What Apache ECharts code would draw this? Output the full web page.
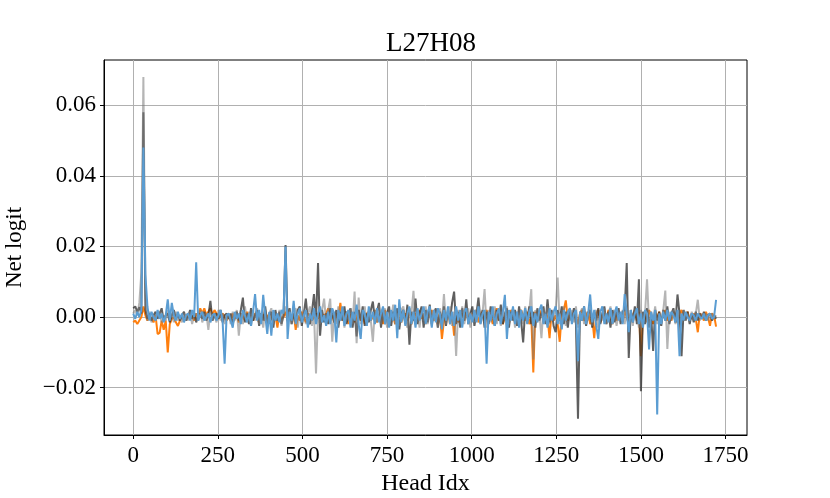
<!DOCTYPE html>
<html>
<head>
<meta charset="utf-8">
<script src="https://cdn.jsdelivr.net/npm/echarts@6/dist/echarts.min.js"></script>
<style>
  html, body { margin: 0; padding: 0; background: #fff; }
</style>
</head>
<body>
<div id="chart" style="width: 830px; height: 498px"></div>
<script>
	// net logit per head, in units of 0.001, one value every STEP heads
	const STEP = 6;
	const xTicks = [0, 250, 500, 750, 1000, 1250, 1500, 1750];
	const yTicks = [-0.02, 0, 0.02, 0.04, 0.06];

	const darkVals = [
		2.5, 3, 1.5, 2.8, 1, 58, 2, -0.5, 1, -1, 0.5, 1.5, -0.5, 1, 2.5, -1, 0.5, 1, -1.5, 0.5, 2, -0.5, 1, -1,
		0.5, 1.5, -1, 0, 2, -0.5, 1, -1.5, 0.5, 1, -0.5, 1.5, -1, 0.5, 4.6, -1, 0.5, 1, -0.5, 2, -1.5, 0.5, 1, -0.5,
		1, -2, 0.5, 1.5, -1, 2, 5.5, -1.5, 1, -2, 2.5, -1, 0.5, 2, -2.5, 1, -1, 3, -2, 0.5, 1.5, -3, 2, -1,
		1.5, -2, 0.5, 20.4, -1, 2.5, -2, 1, -1.5, 2, 3, -2.5, 1, 5.2, -1, -2, 1.5, 6.5, -1, 15.3, -5.3, 2, -1.5, 1,
		-2, 2.5, 1, -1.5, 2, -3, 1.5, -1, 3, -2, 1, 2.5, -3, 1.5, -5.5, 2, -1, 3, -2.5, 1, -1.5, 2, 4.4, -1,
		1.5, 4, -3, 2, -2, 1, 3, -2.5, 1.5, -1, 2.5, -3.5, 1, 2, -2, 3.5, -7.8, 1.5, -1, 5.2, -2, 1, 3, -3,
		2, -1.5, 3.5, -2, 1, 2.5, -3, 1.5, -1, 3, -2.5, 2, -1, 4, 7.2, -2, 1.5, -3, 2.5, -1, 5, -2, 1, 3,
		-2.5, 1, 5.5, -1.5, 2, -3, 1.5, -2, 3, 1, -2.5, 2, -1, 3.5, -2, 1, 2.5, -3, 1.5, -1, 2, -2.5, 3, -1,
		-7.2, 2, -1, 3, -2, 1.5, -3, 2.5, -1, 1, 3, -2, 5, -1.5, 2, -2.5, -4.3, 2, -1, 3, -2, 1.5, -3, 2,
		-1, 2.5, -2, -28.8, 1.5, -1, 3, -2.5, 1, 2, -3, 1.5, -1, 2.5, -2, 1, 3, -2, 1.5, -3, 2, -1.5, 1, 2.5,
		-2, 1.5, 2, 15.3, -11.6, 2, -1.5, 3, -2, 10.7, -21, 1.5, -2, 2.5, -3, 1, -9.6, 2, -1, 1.5, -2.5, 2, -1, 3,
		-2, 1, 2.5, -1.5, 6.4, 1, -11.1, 2, -1, 1.5, -2, 1, -1.5, 1.5, -1, 1, -0.5, 1.5, -1, 0.5, 1, -1, 0.5, -0.5
	];

	const lightVals = [
		1, 2, 0.5, 4, 12.5, 68, 6, -1, 1.5, -1.5, 0.5, -1, 1, 1.5, -1.5, 0.5, -1, 2, -0.5, 1, -1.5, 1.5, -1, 0.5,
		-1.5, 1, 0, -1, 1.5, -2, 0.5, 1, -1, 2, -1.5, 0.5, 1, -3.6, 1.5, -1, 0.5, -1.5, 2, -1, 1, -2, 0.5, 1,
		-2, 1.5, -1, 2, -5.3, 1, -2, 3, -1, 1.5, -2.5, 2, -1, 2.5, -2, 1, -3, 2, -1.5, 1, 2.5, -2, 1, -1,
		2, -2.5, 1, 3, -1.5, 2, -2, 1.5, 2.5, -3, 1, -1, 2, -2, 1, 3, -2.5, 1.5, -16, 1, -2, 2, 5.2, -1.5,
		2, 5.2, -7, 1.5, -2, 3, -1, 2, -3, 1.5, -1, 2.5, -2, 7.2, -7.4, 5.5, -2, 1, 3, -2.5, 1.5, -1, -7, 2,
		-1.5, 3, -2, 1, 2.5, -3, 1.5, -1, 3.5, -2, 1, -2.5, 2, 3, -1, -3, 2, 1, 7.4, -2, 1.5, -3, 2, -1,
		3, -2, 1.5, -2.5, 2, 1, -3, 2.5, -1.5, 6.5, -2, 1, 3, -2.5, 1.5, -11, 2, -1, 3, -2, 1, 2.5, -3, 1,
		-1.5, 2, 3, -2, 1, 7.9, -3, 2, -1.5, 1, 3, -2, 1.5, -2.5, 2, -1, 3, -2, 1, 2.5, -3, 1.5, -1, 2,
		-2, 3, -1, 1.5, 7.9, -12, 2, -1.5, 1, -6, 2.5, -1, 3, -2, 1.5, -1, 2, 11.2, -2, 1, 3, -2.5, 1.5, -1,
		2, -1.5, 3, -3, 1, 2.5, -2, 1.5, -1, 3, -2.5, 1, 2, -3, 1.5, -1, 2.5, -2, 1, 3, -1.5, 2, -2.5, 1,
		-1, 2, -2, 3, -1.5, 1, -2.5, 2, 1.5, -3, 2, -1, 1, 10.7, -2, 1.5, -1, 3, -2, 1, -1.5, 2, 7.5, -9,
		1.5, -1, 2, -2, 1, 1.5, -1.5, 2, -1, 1, -1.5, 1.5, -1, 1, 4.9, -1, 1, -0.5, 1, -1, 0.5, 1, -0.5, 0.5
	];

	const orangeVals = [
		-1.5, -1, -2, -1, 0, 3, 0.5, -1, 0, -0.5, -1.5, 0.5, -4.8, -4.5, -1, -3.6, -1, -10, -2, -0.5, 0, -1.5, -2.5, -1,
		0.5, -1, 0, 1, -0.5, 0.5, -1, 1, 0, 2.5, 1, 2.5, 0.5, 1.5, 2.5, 0.5, 2, 1, -0.5, 0.5, 1, 0, -1, 0.5,
		-1, 1, -0.5, 0.5, -1.5, 1, 0, -1, 1.5, -0.5, 0.5, -1, 1, 0, -1.5, 1, 0.5, -1, 0, 1, -0.5, -1, 0.5, -3,
		1, -0.5, 0, 1.5, -1, 0.5, -0.5, 1, -3.6, 0.5, -1, 1.5, 0, -1.5, 1, 0.5, -1, 0, 1, -0.5, 1.5, -1, 0.5, 1,
		2.5, -1, 0.5, -1.5, 1, 0, 4, -1, 0.5, 1.5, -2, 0.5, 1, -1.5, 0, 2, -1, 0.5, -2, 1, 1.5, -1, 0, 2,
		-1.5, 0.5, 1, -2, 2, -0.5, -1, 1.5, 0, -2, 1, 2, -1.5, 0.5, 1, -1, 2.5, -2, 0, 1, -1, 2, -0.5, 1,
		-2, 1.5, 0, 2, -1, 0.5, -2, 1, -6.2, -1, 0, 1.5, -2, 1, -5.3, 2, -1.5, 0, 1, -1, 2, -1, 0.5, 1,
		-1, 2, -1.5, 0.5, 1.5, -1, 2, -0.5, 1, -2, 0.5, 2.5, -1, 1, -2, 0, 1.5, -1, 2, 0.5, -1.5, 1, -2, 2,
		0.5, -1, 1.5, -2, 0, -15.7, 1.5, -1, 0.5, 2, -1.5, 1, 0, -6, 1.5, -1, 0.5, -2, -7, 1, 2, 4.7, -1, 0.5,
		-1, 1.5, 0, -2, 1, 2, -1, 0.5, 1.5, -2, 0, -6, 1, 2, -1.5, 0.5, 1, -1, 2, 0, -2, 1.5, -1, 0.5,
		1, -1.5, 2, 0, -2, 1, 0.5, 2, -1, 1.5, -11.1, 0, 1, -1.5, 2, 0.5, -2, 1, 0, 1.5, -1, 0.5, 2, -1,
		0.5, -1, 1.5, 0, -1.5, 1, 2, -1, 0.5, 1.5, -1, 0, 1, -0.5, -4.3, 1, 0.5, -1, 1.5, 0, -2.5, 1, 0.5, -2.7
	];

	const blueVals = [
		1, -0.5, 1.5, 0, 2, 48, 12, 3, -1, 1.5, 0, -1, 2, -0.5, 1, -1.5, 0.5, 5, -1, 4, 0.5, -1, 1.5, -0.5,
		1, -1.5, 0.5, 1, -1, 2, 0, 15.5, -1, 0.5, 1.5, -1, 0, 1, -1.5, 0.5, 1, -1, 0.5, 2, -1, -13.2, 0.5, 1,
		-1, -3, 1.5, -0.5, 1, -2, 2, 0.5, -1.5, 1, -2.5, 1.5, 6.5, -1, 2, -2, 6.3, 0.5, -4.8, 1.5, -5.3, 2, -1, 1,
		-1.5, 2, 1, 20, -6.2, 1.5, -1, 4.6, -2, 1, 2.5, -1.5, 0.5, 2, -3, 1, -1, 2.5, -2, 1, 3, -1.5, 0.5, -2.5,
		1.5, -2, 2.5, 1, -7.2, 2, -1, 3, -2.5, 1, 2, -3, 1.5, -1, 3.5, -2, -6.2, 2, 1, -2.5, 3, -1, 1.5, -2,
		2.5, -1.5, 1, 3, -2, 1.5, -3, 2, -1, 3.5, -6, 5, -1.5, 2, -2.5, 1, 3, -2, 1.5, -3, 2.5, -1, 1, 3,
		-2, 1.5, 3, -3, 2, -1.5, 2.5, 1, -3.5, 2, -1, 3, -2, 1.5, -2.5, 3, -1, 2, -3, 1.5, 2.5, -2, 1, -1.5,
		2, -1.5, 3, -2, 1, 2, -13.2, 1.5, -1, 3, -2.5, 1, 2.5, -2, 1.5, 6.3, -6.2, 2, -1, 3, -2, 1.5, -3, 2,
		-1, 2.5, -2, 1.5, 3, -2.5, 1, -1.5, 2, 3.5, -2, 1, -3, 2.5, -1, 1.5, 3, -2, 1, -3.5, 2, -1, 1.5, 2.5,
		-2, 1, 2, -12.5, 1.5, -1, 3, -2, 1, 6.4, -1.5, 2, -2.5, -6.2, 1.5, 3, -2, 1, -1.5, 2.5, -2, 1, 3, -1,
		1.5, -2, 6.5, 1, -4.3, 2, -1.5, 1, 2.5, -2, 1, -3, 2, 1, -9.2, 1.5, -1, 2, -27.6, 1, -2, 1.5, -1, 2,
		-1, 1.5, 0.5, -1.5, 2, -11.1, 1, -1, 1.5, 0, -1, 1, 0.5, -1, 1, 0, -0.5, 1, -1, 0.5, 1, -0.5, 0, 4.9
	];

	function toPoints(vals) {
		return vals.map((v, i) => [i * STEP, v / 1000]);
	}

	function fmtY(v) {
		const s = Math.abs(v).toFixed(2);
		return v < -1e-9 ? '\u2212' + s : s;
	}

	const font = 'Liberation Serif';
	const nHeads = 1728;
	const xPad = (nHeads - 1) * 0.05;

	var chart = echarts.init(document.getElementById('chart'));

	function lineSeries(vals, color, z) {
		return {
			type: 'line',
			data: toPoints(vals),
			showSymbol: false,
			lineStyle: { color: color, width: 2 },
			itemStyle: { color: color },
			z: z,
			silent: true
		};
	}

	var option = {
		animation: false,
		backgroundColor: '#fff',
		title: {
			text: 'L27H08',
			left: 426,
			top: 25,
			textAlign: 'center',
			textStyle: { fontFamily: font, fontSize: 27, fontWeight: 'normal', color: '#000' }
		},
		grid: {
			left: 104, right: 83, top: 60, bottom: 63,
			outerBoundsMode: 'none',
			containLabel: false,
			show: true, borderColor: '#000', borderWidth: 1
		},
		xAxis: {
			type: 'value',
			min: -xPad,
			max: (nHeads - 1) + xPad,
			name: 'Head Idx',
			nameLocation: 'middle',
			nameGap: 36,
			nameTextStyle: { fontFamily: font, fontSize: 24, color: '#000' },
			axisLine: { show: true, onZero: false, lineStyle: { color: '#000' } },
			axisTick: { show: true, length: 4, customValues: xTicks, lineStyle: { color: '#000' } },
			axisLabel: {
				customValues: xTicks, margin: 9,
				fontFamily: font, fontSize: 23, color: '#000',
				formatter: v => String(v)
			},
			splitLine: { show: true, lineStyle: { color: '#b0b0b0', width: 1 } }
		},
		yAxis: {
			type: 'value',
			min: -0.0334,
			max: 0.0728,
			name: 'Net logit',
			nameLocation: 'middle',
			nameGap: 78,
			nameTextStyle: { fontFamily: font, fontSize: 23, color: '#000' },
			axisLine: { show: true, onZero: false, lineStyle: { color: '#000' } },
			axisTick: { show: true, length: 4, customValues: yTicks, lineStyle: { color: '#000' } },
			axisLabel: {
				customValues: yTicks, margin: 8,
				fontFamily: font, fontSize: 23, color: '#000',
				formatter: fmtY
			},
			splitLine: { show: true, lineStyle: { color: '#b0b0b0', width: 1 } }
		},
		series: [
			lineSeries(orangeVals, '#ff7f0e', 2),
			lineSeries(darkVals, 'rgba(50,50,50,0.78)', 3),
			lineSeries(lightVals, 'rgba(120,120,120,0.55)', 4),
			lineSeries(blueVals, '#5b9dd2', 5)
		]
	};

	chart.setOption(option);
</script>
</body>
</html>
